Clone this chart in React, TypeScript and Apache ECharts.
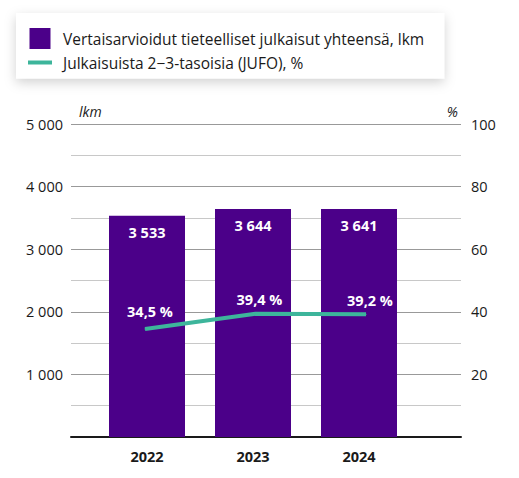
import React, { useEffect, useRef } from "react";
import * as echarts from "echarts";

const years = ["2022", "2023", "2024"];
const publications = [3533, 3644, 3641];
const jufoShare = [34.5, 39.4, 39.2];
const barName = "Vertaisarvioidut tieteelliset julkaisut yhteensä, lkm";
const lineName = "Julkaisuista 2−3-tasoisia (JUFO), %";

const FONT = "'Open Sans', 'Noto Sans', sans-serif";
const PURPLE = "#4b0089";
const TEAL = "#3db59b";

const fmtThousands = (v: number) =>
  String(Math.round(v)).replace(/\B(?=(\d{3})+(?!\d))/g, " ");

export default function App() {
  const ref = useRef<HTMLDivElement>(null);
  useEffect(() => {
    document.body.style.margin = "0";
    const chart = echarts.init(ref.current!, null, { renderer: "svg" });
    chart.setOption({
      animation: false,
      textStyle: { fontFamily: FONT },
      legend: {
        orient: "vertical",
        left: 16,
        top: 13,
        padding: [15, 20, 8, 12],
        itemGap: 5.5,
        itemWidth: 24,
        itemHeight: 21,
        backgroundColor: "#ffffff",
        shadowBlur: 12,
        shadowColor: "rgba(0,0,0,0.18)",
        shadowOffsetY: 4,
        selectedMode: false,
        textStyle: { fontFamily: FONT, fontSize: 15.5, fontWeight: 500, color: "#1a1a1a", padding: [0, 0, 0, 6] },
        data: [
          { name: barName, icon: "path://M0 0h21v21H0z" },
          { name: lineName, icon: "path://M0 0h24v4H0z" },
        ],
      },
      grid: [
        { left: 71, right: 58, top: 124, bottom: 41 },
        { left: 94, right: 107, top: 124, bottom: 41 },
        { left: 145, right: 153, top: 124, bottom: 41 },
      ],
      xAxis: [
        {
          gridIndex: 0,
          type: "value",
          min: 0,
          max: 1,
          axisLine: { show: true, onZero: false, lineStyle: { color: "#1a1a1a", width: 2 } },
          axisTick: { show: false },
          axisLabel: { show: false },
          splitLine: { show: false },
        },
        {
          gridIndex: 1,
          type: "category",
          data: years,
          axisLine: { show: false },
          axisTick: { show: false },
          axisLabel: { fontFamily: FONT, fontSize: 14.5, fontWeight: "bold", color: "#1a1a1a", margin: 12 },
        },
        {
          gridIndex: 2,
          type: "category",
          data: years,
          boundaryGap: false,
          show: false,
        },
      ],
      yAxis: [
        {
          gridIndex: 0,
          type: "value",
          min: 0,
          max: 5000,
          interval: 1000,
          position: "left",
          name: "lkm",
          nameGap: 6,
          nameTextStyle: {
            fontFamily: FONT,
            fontStyle: "italic",
            fontSize: 14,
            fontWeight: 500,
            color: "#1a1a1a",
            align: "left",
            padding: [0, 0, 0, 8],
          },
          axisLine: { show: false },
          axisTick: { show: false },
          axisLabel: {
            fontFamily: FONT,
            fontSize: 14.5,
            fontWeight: 500,
            color: "#1a1a1a",
            margin: 8,
            formatter: (v: number) => (v === 0 ? "" : fmtThousands(v)),
          },
          splitLine: { show: true, lineStyle: { color: "#999999", width: 1 } },
          minorTick: { show: false, splitNumber: 2 },
          minorSplitLine: { show: true, lineStyle: { color: "#c8c8c8", width: 1 } },
        },
        {
          gridIndex: 0,
          type: "value",
          min: 0,
          max: 100,
          interval: 20,
          position: "right",
          name: "%",
          nameGap: 6,
          nameTextStyle: {
            fontFamily: FONT,
            fontStyle: "italic",
            fontSize: 14,
            fontWeight: 500,
            color: "#1a1a1a",
            align: "right",
            padding: [0, 3, 0, 0],
          },
          axisLine: { show: false },
          axisTick: { show: false },
          axisLabel: {
            fontFamily: FONT,
            fontSize: 14.5,
            fontWeight: 500,
            color: "#1a1a1a",
            margin: 10,
            formatter: (v: number) => (v === 0 ? "" : String(v)),
          },
          splitLine: { show: false },
        },
        { gridIndex: 1, type: "value", min: 0, max: 5000, show: false },
        { gridIndex: 2, type: "value", min: 0, max: 100, show: false },
      ],
      series: [
        {
          name: barName,
          type: "bar",
          xAxisIndex: 1,
          yAxisIndex: 2,
          data: publications,
          barWidth: 76,
          itemStyle: { color: PURPLE },
          label: {
            show: true,
            position: "insideTop",
            distance: 9,
            fontFamily: FONT,
            fontSize: 14.5,
            fontWeight: "bold",
            color: "#ffffff",
            formatter: (p: any) => fmtThousands(p.value),
          },
        },
        {
          name: lineName,
          type: "line",
          xAxisIndex: 2,
          yAxisIndex: 3,
          data: jufoShare.map((v, i) =>
            i === 0 ? { value: v, label: { offset: [5, -4] } } : { value: v }
          ),
          symbol: "circle",
          symbolSize: 1,
          color: TEAL,
          itemStyle: { color: TEAL },
          lineStyle: { color: TEAL, width: 4 },
          label: {
            show: true,
            position: "top",
            distance: 6,
            offset: [4, 0],
            fontFamily: FONT,
            fontSize: 14.5,
            fontWeight: "bold",
            color: "#ffffff",
            formatter: (p: any) => String(p.value).replace(".", ",") + " %",
          },
        },
      ],
    });
    return () => chart.dispose();
  }, []);
  return <div ref={ref} style={{ width: 519, height: 478 }} />;
}
